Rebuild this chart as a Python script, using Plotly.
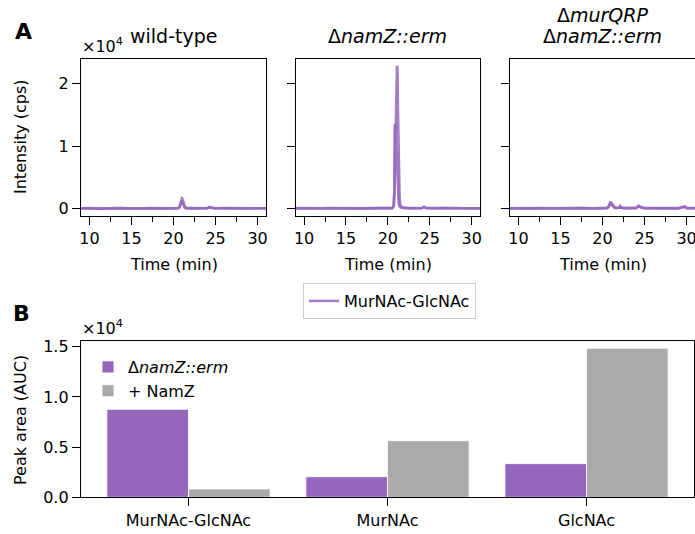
import plotly.graph_objects as go

# ---------------- data ----------------
time_min = [9.0, 10.0, 11.0, 12.0, 13.0, 14.0, 15.0, 16.0, 17.0, 18.0, 19.0, 20.0,
            20.5, 20.7, 20.8, 20.85, 20.9, 20.95, 21.0, 21.05, 21.1, 21.15, 21.2, 21.3, 21.4, 21.5, 21.7,
            22.0, 22.1, 22.2, 22.5, 23.0,
            24.0, 24.3, 24.6, 25.0,
            26.0, 27.0, 28.0, 29.0,
            29.8, 30.0, 31.0]

wt_rep1 = [60, 110, 40, 90, 70, 120, 50, 100, 80, 60, 110, 90,
           100, 250, 700, 1100, 1400, 1550, 1650, 1600, 1400, 1000, 650, 300, 180, 120, 90,
           110, 150, 100, 80, 90,
           120, 300, 150, 100,
           80, 120, 70, 100,
           110, 90, 80]
wt_rep2 = [90, 60, 100, 50, 110, 80, 90, 60, 120, 80, 70, 100,
           80, 200, 500, 800, 1050, 1200, 1250, 1150, 950, 700, 450, 220, 140, 100, 110,
           90, 120, 80, 110, 70,
           100, 220, 120, 90,
           110, 70, 100, 80,
           90, 110, 100]

namz_rep1 = [80, 120, 60, 100, 90, 70, 110, 60, 100, 80, 120, 90,
             120, 400, 3000, 13500, 13000, 12500, 17000, 21000, 22800, 22500, 16000, 6000, 1500, 500, 250,
             150, 120, 100, 90, 110,
             100, 350, 130, 90,
             120, 80, 110, 90,
             100, 80, 90]
namz_rep2 = [110, 70, 100, 80, 120, 90, 60, 100, 80, 110, 70, 100,
             100, 500, 4000, 13000, 13500, 12000, 10000, 8000, 6000, 4000, 2500, 900, 400, 250, 150,
             120, 100, 130, 80, 100,
             90, 250, 120, 100,
             80, 110, 90, 120,
             90, 110, 80]

murqrp_rep1 = [100, 60, 120, 80, 90, 110, 70, 100, 60, 120, 80, 90,
               150, 300, 700, 900, 1000, 950, 1000, 900, 950, 850, 700, 400, 250, 180, 150,
               200, 450, 250, 120, 100,
               150, 500, 250, 120,
               100, 130, 90, 110,
               400, 150, 120]
murqrp_rep2 = [80, 110, 70, 100, 120, 60, 100, 90, 110, 70, 100, 120,
               120, 250, 550, 700, 800, 850, 800, 750, 700, 600, 450, 250, 180, 130, 120,
               180, 350, 200, 110, 90,
               120, 400, 200, 100,
               120, 90, 110, 80,
               300, 120, 100]

panel_titles = ["wild-type", "Δ<i>namZ::erm</i>", ["Δ<i>murQRP</i>", "Δ<i>namZ::erm</i>"]]

time_ticks = [10, 15, 20, 25, 30]
time_minor_ticks = [12.5, 17.5, 22.5, 27.5]
intensity_ticks = [0, 10000, 20000]
intensity_ticktext = ["0", "1", "2"]

categories = ["MurNAc-GlcNAc", "MurNAc", "GlcNAc"]
auc_namz = [8760, 2050, 3350]
auc_plus_namz = [830, 5640, 14840]
auc_ticks = [0, 5000, 10000, 15000]
auc_ticktext = ["0.0", "0.5", "1.0", "1.5"]

# ---------------- styling ----------------
W, H = 695, 534
PURPLE = "#9467bd"
GRAY = "#aaaaaa"
FONT = "DejaVu Sans"


def px(x):
    return x / W


def py(y):
    return 1 - y / H


A_x_domains = [(81, 266), (295.7, 480), (510, 695)]
A_y = (59, 216)
B_x = (81, 694)
B_y = (341, 497.3)

fig = go.Figure()

samples = [(wt_rep1, wt_rep2), (namz_rep1, namz_rep2), (murqrp_rep1, murqrp_rep2)]
first = True
for i, reps in enumerate(samples):
    ax = "" if i == 0 else str(i + 1)
    for rep in reps:
        fig.add_trace(go.Scatter(
            x=time_min, y=rep, mode="lines",
            line=dict(color=PURPLE, width=2.6), opacity=0.85,
            name="MurNAc-GlcNAc", showlegend=first, legend="legend",
            xaxis="x" + ax, yaxis="y" + ax,
        ))
        first = False

fig.add_trace(go.Bar(
    x=categories, y=auc_namz, name="Δ<i>namZ::erm</i>",
    marker=dict(color=PURPLE, line=dict(color="white", width=0.8)),
    xaxis="x4", yaxis="y4", legend="legend2",
))
fig.add_trace(go.Bar(
    x=categories, y=auc_plus_namz, name="+ NamZ",
    marker=dict(color=GRAY, line=dict(color="white", width=0.8)),
    xaxis="x4", yaxis="y4", legend="legend2",
))

common = dict(showline=True, linecolor="black", linewidth=1.3, mirror=True,
              ticks="outside", ticklen=8, tickwidth=1.3, tickcolor="black",
              showgrid=False, zeroline=False, automargin=False,
              ticklabeloverflow="allow",
              tickfont=dict(size=16, color="black", family=FONT))

layout = dict(
    width=W, height=H, margin=dict(l=0, r=0, t=0, b=0, pad=0),
    paper_bgcolor="white", plot_bgcolor="white",
    font=dict(family=FONT, size=16, color="black"),
    barmode="group", bargap=0.18, bargroupgap=0,
    legend=dict(x=px(303), y=py(283), xanchor="left", yanchor="top",
                bgcolor="white", bordercolor="#cccccc", borderwidth=1,
                font=dict(size=16)),
    legend2=dict(x=px(88), y=py(350), xanchor="left", yanchor="top",
                 bgcolor="rgba(0,0,0,0)", font=dict(size=16)),
)

for i, (x0, x1) in enumerate(A_x_domains):
    ax = "" if i == 0 else str(i + 1)
    layout["xaxis" + ax] = dict(
        common, domain=[px(x0), px(x1)], anchor="y" + ax, range=[9, 31],
        tickvals=time_ticks,
        minor=dict(ticks="outside", ticklen=4.5, tickwidth=1.1, tickcolor="black",
                   tickvals=time_minor_ticks, showgrid=False),
    )
    layout["yaxis" + ax] = dict(
        common, domain=[py(A_y[1]), py(A_y[0])], anchor="x" + ax,
        range=[-1140, 23900], tickvals=intensity_ticks, ticktext=intensity_ticktext,
        showticklabels=(i == 0),
    )

layout["xaxis4"] = dict(common, domain=[px(B_x[0]), px(B_x[1])], anchor="y4",
                        range=[-0.54, 2.54], type="category")
layout["yaxis4"] = dict(common, domain=[py(B_y[1]), py(B_y[0])], anchor="x4",
                        range=[0, 15570], tickvals=auc_ticks, ticktext=auc_ticktext)

ann = []


def add_text(text, x, y, size=16, xanchor="center", angle=0):
    ann.append(dict(text=text, x=px(x), y=py(y), xref="paper", yref="paper",
                    xanchor=xanchor, yanchor="middle", showarrow=False,
                    textangle=angle, font=dict(size=size, color="black", family=FONT)))


add_text("<b>A</b>", 23, 31, size=22)
add_text("<b>B</b>", 21, 313, size=22)
add_text("×10<sup>4</sup>", 80, 46, xanchor="left")
add_text("×10<sup>4</sup>", 80, 328, xanchor="left")

centers = [(a + b) / 2 for a, b in A_x_domains]
add_text(panel_titles[0], centers[0], 36, size=19)
add_text(panel_titles[1], centers[1], 36, size=19)
add_text(panel_titles[2][0], centers[2], 15, size=19)
add_text(panel_titles[2][1], centers[2], 36, size=19)
for c in centers:
    add_text("Time (min)", c, 264)
add_text("Intensity (cps)", 20, 137, angle=-90)
add_text("Peak area (AUC)", 20, 420, angle=-90)

layout["annotations"] = ann
fig.update_layout(**layout)

fig.write_html("out.html")
